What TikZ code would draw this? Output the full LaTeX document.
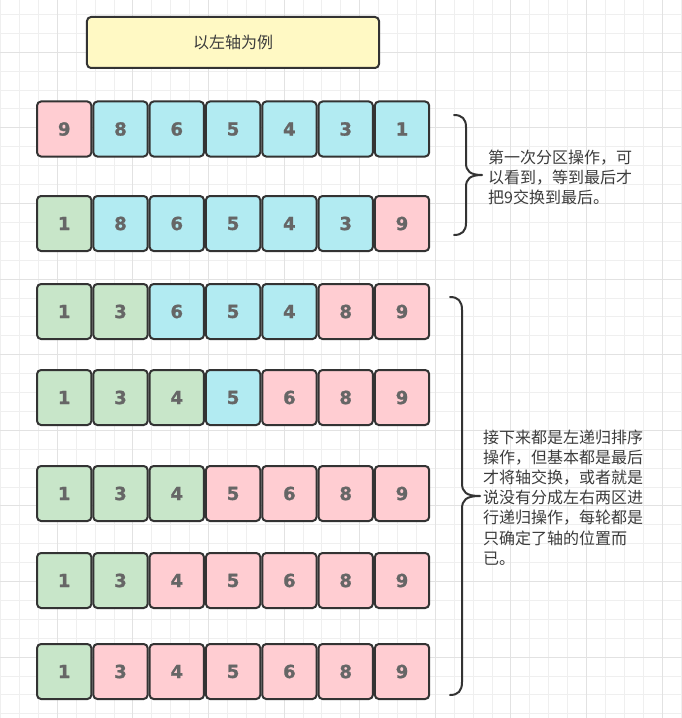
\documentclass[tikz,border=0pt]{standalone}
\usepackage{fontspec}
\setmainfont{Liberation Sans}
\newfontfamily\digitfont{DejaVu Sans}[FakeBold=1.2]
\newfontfamily\cjk{Noto Sans CJK SC}
\definecolor{cpink}{HTML}{FFCDD2}
\definecolor{cblue}{HTML}{B2EBF2}
\definecolor{cgreen}{HTML}{C8E6C9}
\definecolor{cyellow}{HTML}{FFF9C4}
\definecolor{cborder}{HTML}{333333}
\definecolor{cdigit}{HTML}{666666}
\definecolor{ctext}{HTML}{3C3C3C}
\definecolor{gminor}{HTML}{EFEFEF}
\definecolor{gmajor}{HTML}{E2E2E2}
\tikzset{
  cell/.style={draw=cborder, line width=2bp, rounded corners=4bp, minimum width=54.3bp, minimum height=55bp, inner sep=0pt,
    font=\digitfont\fontsize{18bp}{22bp}\selectfont\bfseries, text=cdigit},
  p/.style={cell, fill=cpink},
  b/.style={cell, fill=cblue},
  g/.style={cell, fill=cgreen},
  titlebox/.style={draw=cborder, line width=2bp, rounded corners=4bp, fill=cyellow, minimum width=292bp, minimum height=51bp,
    font=\cjk\fontsize{16bp}{20bp}\selectfont, text=ctext},
  note/.style={anchor=west, align=left, inner sep=0pt, font=\cjk\fontsize{16bp}{20.2bp}\selectfont, text=ctext},
  bracepath/.style={draw=cborder, line width=2bp, line cap=round, line join=round},
  gminorline/.style={draw=gminor, line width=0.8bp},
  gmajorline/.style={draw=gmajor, line width=0.8bp}
}
\begin{document}
\begin{tikzpicture}[x=1bp, y=-1bp]
\useasboundingbox (0,0) rectangle (682,718);
\fill[white] (0,0) rectangle (682,718);
% grid
\foreach \i in {0,...,36} {\draw[gminorline] ({0.5+18.9*\i},0) -- ({0.5+18.9*\i},718);}
\foreach \j in {0,...,37} {\draw[gminorline] (0,{14.4+18.9*\j}) -- (682,{14.4+18.9*\j});}
\foreach \i in {0,...,8} {\draw[gmajorline] ({57.2+75.6*\i},0) -- ({57.2+75.6*\i},718);}
\foreach \j in {0,...,8} {\draw[gmajorline] (0,{52.2+75.6*\j}) -- (682,{52.2+75.6*\j});}
% title
\node[titlebox] (title) at (233,42.5) {以左轴为例};
% rows
\foreach \r/\yy/\cells in {
  1/129/{p/9,b/8,b/6,b/5,b/4,b/3,b/1},
  2/223.5/{g/1,b/8,b/6,b/5,b/4,b/3,p/9},
  3/311.5/{g/1,g/3,b/6,b/5,b/4,p/8,p/9},
  4/397.5/{g/1,g/3,g/4,b/5,p/6,p/8,p/9},
  5/493.5/{g/1,g/3,g/4,p/5,p/6,p/8,p/9},
  6/580.5/{g/1,g/3,p/4,p/5,p/6,p/8,p/9},
  7/671.5/{g/1,p/3,p/4,p/5,p/6,p/8,p/9}} {
  \foreach \s/\v [count=\k from 0] in \cells {
    \node[\s] (c-\r-\k) at ({64.2+56.3*\k},\yy) {\v};
  }
}
% braces
\draw[bracepath] (454,115) .. controls (462,115) and (466,119) .. (466,127) -- (466,163)
  .. controls (466,171) and (470,175) .. (482,175)
  .. controls (470,175) and (466,179) .. (466,187) -- (466,223)
  .. controls (466,231) and (462,235) .. (454,235);
\draw[bracepath] (450,297) .. controls (458,297) and (462,301) .. (462,310) -- (462,483)
  .. controls (462,492) and (466,496) .. (480,496)
  .. controls (466,496) and (462,500) .. (462,509) -- (462,682)
  .. controls (462,691) and (458,695) .. (450,695);
% notes
\node[note] (n1) at (488,177.5) {第一次分区操作，可\\以看到，等到最后才\\把9交换到最后。};
\node[note] (n2) at (483,497.5) {接下来都是左递归排序\\操作，但基本都是最后\\才将轴交换，或者就是\\说没有分成左右两区进\\行递归操作，每轮都是\\只确定了轴的位置而\\已。};
\end{tikzpicture}
\end{document}
